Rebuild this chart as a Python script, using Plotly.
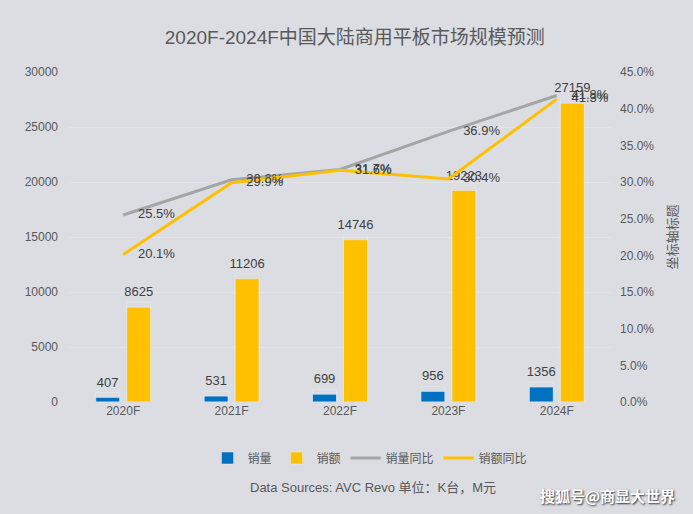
import plotly.graph_objects as go

categories = ["2020F", "2021F", "2022F", "2023F", "2024F"]
sales_volume = [407, 531, 699, 956, 1356]          # 销量 (K台)
sales_value = [8625, 11206, 14746, 19223, 27159]   # 销额 (M元)
volume_yoy = [25.5, 30.3, 31.7, 36.9, 41.8]        # 销量同比 (%)
value_yoy = [20.1, 29.9, 31.6, 30.4, 41.3]         # 销额同比 (%)

left_ticks = [0, 5000, 10000, 15000, 20000, 25000, 30000]
right_ticks = [0, 5, 10, 15, 20, 25, 30, 35, 40, 45]
right_tick_labels = [f"{v:.1f}%" for v in right_ticks]

BG = "#dbdde3"
TXT = "#595959"
LBL = "#404040"
FONT = "Liberation Sans, Arial, Noto Sans CJK SC, sans-serif"

Y_MAX = 30000
LABEL_LIFT = Y_MAX * 5 / 330  # ~5px extra gap between bar top and its label

fig = go.Figure()

for name, vals, color, off in [
    ("销量", sales_volume, "#0070C0", -0.254),
    ("销额", sales_value, "#FFC000", 0.032),
]:
    fig.add_trace(go.Bar(
        x=categories, y=vals, name=name,
        marker_color=color, width=0.222, offset=off,
    ))
    # transparent carrier bar for the value label, a little above the real bar
    fig.add_trace(go.Bar(
        x=categories, y=[v + LABEL_LIFT for v in vals], showlegend=False,
        marker=dict(color="rgba(0,0,0,0)"), width=0.222, offset=off,
        text=[str(v) for v in vals], textposition="outside",
        constraintext="none",
        textfont=dict(size=13, color=LBL), cliponaxis=False,
    ))

fig.add_trace(go.Scatter(
    x=categories, y=volume_yoy, name="销量同比", yaxis="y2",
    mode="lines+markers+text", line=dict(color="#A5A5A5", width=3),
    marker=dict(size=22, color="rgba(0,0,0,0)"),
    text=[f"{v:.1f}%" for v in volume_yoy], textposition="middle right",
    textfont=dict(size=13, color=LBL), cliponaxis=False,
))
fig.add_trace(go.Scatter(
    x=categories, y=value_yoy, name="销额同比", yaxis="y2",
    mode="lines+markers+text", line=dict(color="#FFC000", width=3),
    marker=dict(size=22, color="rgba(0,0,0,0)"),
    text=[f"{v:.1f}%" for v in value_yoy], textposition="middle right",
    textfont=dict(size=13, color=LBL), cliponaxis=False,
))

L, R, T, B = 69, 82, 72, 112
PW = 693 - L - R
PH = 514 - T - B

fig.update_layout(
    width=693, height=514,
    paper_bgcolor=BG, plot_bgcolor=BG,
    font=dict(family=FONT, size=12, color=TXT),
    margin=dict(l=L, r=R, t=T, b=B, autoexpand=False),
    barmode="overlay",
    hovermode=False,
    title=dict(
        text="2020F-2024F中国大陆商用平板市场规模预测",
        font=dict(size=19, color=TXT),
        xref="container", x=0.512, xanchor="center",
        yref="container", y=1 - 37 / 514, yanchor="middle",
    ),
    xaxis=dict(
        type="category", range=[-0.5, 4.5], showgrid=False, automargin=False,
        showline=False, ticks="", tickfont=dict(size=12, color=TXT),
    ),
    yaxis=dict(
        range=[0, Y_MAX], tickvals=left_ticks, ticktext=[str(v) for v in left_ticks],
        showgrid=True, gridcolor="#e4e4e6", gridwidth=1, zeroline=False,
        automargin=False, showline=False, ticks="", ticklabelstandoff=10,
        tickfont=dict(size=12, color=TXT),
    ),
    yaxis2=dict(
        overlaying="y", side="right", range=[0, 45],
        tickvals=right_ticks, ticktext=right_tick_labels, automargin=False,
        showgrid=False, zeroline=False, showline=False, ticks="",
        ticklabelstandoff=8,
        tickfont=dict(size=12, color=TXT),
        title=dict(text="坐标轴标题", font=dict(size=13, color=TXT), standoff=14),
    ),
    legend=dict(
        orientation="h", xref="container", x=0.534, xanchor="center",
        yref="container", y=1 - 458 / 514, yanchor="middle",
        font=dict(size=12, color=TXT), bgcolor="rgba(0,0,0,0)",
        itemwidth=30, tracegroupgap=0,
    ),
    showlegend=True,
    annotations=[
        dict(
            text="Data Sources: AVC Revo 单位：K台，M元",
            xref="paper", yref="paper", showarrow=False,
            x=(373 - L) / PW, y=-(487 - (514 - B)) / PH,
            xanchor="center", yanchor="middle",
            font=dict(size=13, color=TXT),
        ),
        dict(
            text="<b>搜狐号@商显大世界</b>",
            xref="paper", yref="paper", showarrow=False,
            x=(607 - L) / PW, y=-(495 - (514 - B)) / PH,
            xanchor="center", yanchor="middle",
            font=dict(size=15, color="white", family="Noto Sans CJK SC",
                      shadow="1px 1px 2px #333333"),
        ),
    ],
)

fig.write_html(
    "out.html",
    config={"displayModeBar": False},
    post_script="document.body.style.margin='0';document.body.style.overflow='hidden';",
)
